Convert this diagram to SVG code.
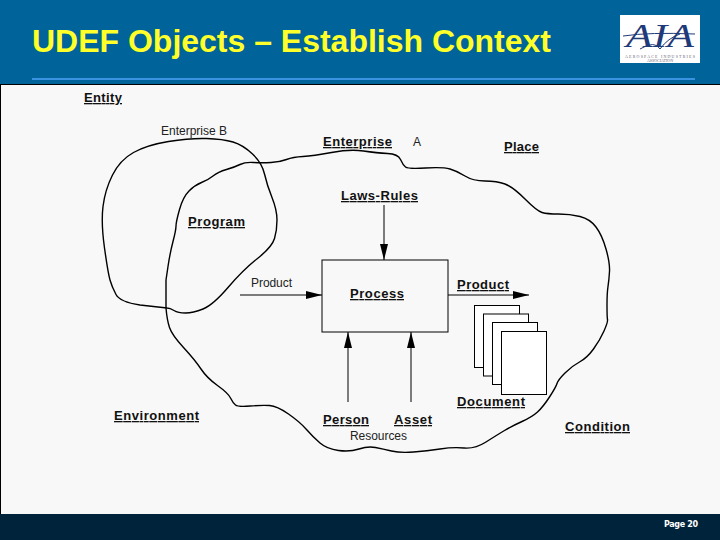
<svg xmlns="http://www.w3.org/2000/svg" width="720" height="540" viewBox="0 0 720 540">
<style>
.l{font-family:"Liberation Sans",Arial,sans-serif;font-size:13px;font-weight:700;fill:#111;text-decoration:underline}
.t{font-family:"Liberation Sans",Arial,sans-serif;font-size:12px;fill:#222}
.c{fill:none;stroke:#000;stroke-width:1.4;stroke-linejoin:round;stroke-linecap:round}
.a{fill:none;stroke:#000;stroke-width:1;marker-end:url(#h)}
.b{fill:#fff;stroke:#000;stroke-width:1}
</style>
<defs>
<marker id="h" markerUnits="userSpaceOnUse" markerWidth="17" markerHeight="10" refX="16" refY="5" orient="auto"><path d="M0 1L16 5L0 9Z" fill="#000"/></marker>
</defs>
<rect width="720" height="85" fill="#00649b"/>
<rect y="84" width="720" height="430" fill="#f8f8f8"/>
<path d="M0 84.500H720M0.500 84V514" stroke="#000" fill="none"/>
<rect y="514" width="720" height="26" fill="#00233c"/>
<rect x="32" y="78" width="663" height="2" fill="#3a93e0"/>
<text x="32" y="52" textLength="519" lengthAdjust="spacingAndGlyphs" font-family="Liberation Sans,Arial,sans-serif" font-size="32" font-weight="700" fill="#ffff2a">UDEF Objects – Establish Context</text>
<g id="logo">
<rect x="620" y="15" width="80" height="48" fill="#fff"/>
<text x="626" y="47" font-family="Liberation Serif,serif" font-style="italic" font-size="34" fill="#1f3a78" textLength="68" lengthAdjust="spacingAndGlyphs">AIA</text>
<path d="M623 36Q650 32 695 34M640 49Q655 40 660 49Q668 38 680 34" fill="none" stroke="#1f3a78"/>
<text x="660" y="57.500" text-anchor="middle" font-family="Liberation Serif,serif" font-size="4" fill="#667" textLength="70">AEROSPACE INDUSTRIES</text>
<text x="660" y="62" text-anchor="middle" font-family="Liberation Serif,serif" font-size="4" fill="#667">ASSOCIATION</text>
</g>
<g id="connectors">
<path class="c" d="M167 308L140 305Q120 302 116 294.500Q112 287 110 280Q108 273 104.500 248Q101 223 103 206.500Q105 190 112.500 175Q120 160 133.500 152.500Q147 145 168.500 141.500Q190 138 206.500 138.500Q223 139 233 142Q243 145 252.500 154Q262 163 264.500 174Q267 185 272 197.500Q277 210 277 220Q277 230 274.500 238.500Q272 247 257.500 258.500Q243 270 228 287.500Q213 305 203 309Q193 313 185.500 313Q178 313 174 310.500Q170 308 167 308"/>
<path class="c" d="M166 308L166 280Q166 280 168 266.500Q170 253 173 241.500Q176 230 176 226Q176 222 179.500 209.500Q183 197 189 191Q195 185 201.500 182.500Q208 180 213 176Q218 172 226.500 169.500Q235 167 240 164.500Q245 162 253.500 162.500Q262 163 271 162.500Q280 162 286.500 159.500Q293 157 303 156.500Q313 156 331.500 152.500Q350 149 363.500 151Q377 153 387.500 153.500Q398 154 400.500 159.500Q403 165 405.500 167Q408 169 425.500 168Q443 167 450 169Q457 171 465 176Q473 181 485 181Q497 181 505 184Q513 187 525 199Q537 211 542 212.500Q547 214 558.500 214Q570 214 580 216.500Q590 219 596 227Q602 235 606 249Q610 263 609.500 271.500Q609 280 608 286.500Q607 293 607 305Q607 317 607.500 319.500Q608 322 604 331Q600 340 593.500 349Q587 358 579.500 362Q572 366 565 373Q558 380 557 383.500Q556 387 549.500 397Q543 407 537.500 412Q532 417 522 421.500Q512 426 504.500 430.500Q497 435 486 442Q475 449 464 448Q453 447 440 449Q427 451 413.500 452Q400 453 391.500 451Q383 449 375.500 447.500Q368 446 359 449Q350 452 338.500 450.500Q327 449 320 443Q313 437 306.500 429.500Q300 422 288.500 414Q277 406 269.500 405.500Q262 405 250 406Q238 407 235.500 405Q233 403 230.500 398Q228 393 217.500 385.500Q207 378 201 369Q195 360 183.500 347.500Q172 335 169.500 327.500Q167 320 166 308"/>
<path class="a" d="M240 295H322"/>
<path class="a" d="M448 295H529"/>
<path class="a" d="M384 205V260"/>
<path class="a" d="M348 402V332"/>
<path class="a" d="M411 402V332"/>
</g>
<g id="process"><rect x="322" y="260" width="126" height="72" fill="#f8f8f8" stroke="#000"/><text class="l" x="350" y="298" textLength="54">Process</text></g>
<g id="documents">
<rect class="b" x="474.500" y="305.500" width="45" height="62"/>
<rect class="b" x="483.500" y="314" width="45" height="62"/>
<rect class="b" x="492.500" y="322.500" width="45" height="62"/>
<rect class="b" x="501.500" y="331.500" width="45" height="63"/>
<text class="l" x="457" y="406" textLength="68">Document</text>
</g>
<g id="entity"><text class="l" x="84" y="102" textLength="38">Entity</text></g>
<g id="enterprise-b"><text class="t" x="161" y="135" textLength="66">Enterprise B</text></g>
<g id="enterprise-a"><text class="l" x="323" y="146" textLength="69">Enterprise</text><text class="t" x="413" y="146">A</text></g>
<g id="place"><text class="l" x="504" y="151" textLength="35">Place</text></g>
<g id="laws-rules"><text class="l" x="341" y="200" textLength="77">Laws-Rules</text></g>
<g id="program"><text class="l" x="188" y="226" textLength="57">Program</text></g>
<g id="product-in"><text class="t" x="251" y="287" textLength="41">Product</text></g>
<g id="product-out"><text class="l" x="457" y="289" textLength="52">Product</text></g>
<g id="environment"><text class="l" x="114" y="420" textLength="85">Environment</text></g>
<g id="person"><text class="l" x="323" y="424" textLength="46">Person</text></g>
<g id="asset"><text class="l" x="394" y="424" textLength="38">Asset</text></g>
<g id="resources"><text class="t" x="350" y="440" textLength="57">Resources</text></g>
<g id="condition"><text class="l" x="565" y="431" textLength="65">Condition</text></g>
<text x="664" y="527" font-family="DejaVu Sans,sans-serif" font-size="8" font-weight="700" fill="#fff" textLength="34">Page 20</text>
</svg>
